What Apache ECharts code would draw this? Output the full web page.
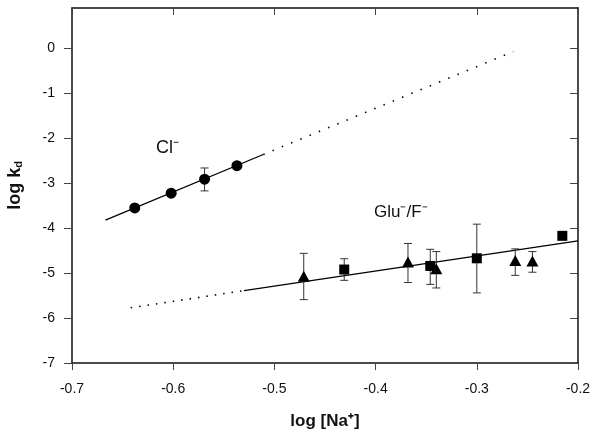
<!DOCTYPE html>
<html>
<head>
<meta charset="utf-8">
<script src="https://cdn.jsdelivr.net/npm/echarts@6/dist/echarts.min.js"></script>
<style>
html,body{margin:0;padding:0;background:#fff;}
#c{width:600px;height:436px;}
</style>
</head>
<body>
<div id="c"></div>
<script>
// ---- data ----
var clX = [-0.638, -0.602, -0.569, -0.537];
var clY = [-3.55, -3.22, -2.91, -2.61];
var clErrLo = [null, null, -3.17, null];
var clErrHi = [null, null, -2.66, null];

var sqX = [-0.431, -0.346, -0.300, -0.2155];
var sqY = [-4.92, -4.84, -4.67, -4.17];
var sqErrLo = [-5.16, -5.25, -5.44, -4.24];
var sqErrHi = [-4.68, -4.47, -3.91, -4.10];

var triX = [-0.471, -0.368, -0.340, -0.262, -0.245];
var triY = [-5.07, -4.75, -4.90, -4.72, -4.73];
var triErrLo = [-5.59, -5.21, -5.33, -5.05, -4.98];
var triErrHi = [-4.56, -4.34, -4.52, -4.46, -4.52];

var clFitSolidX = [-0.667, -0.511];
var clFitSolidY = [-3.82, -2.36];
var clFitDotX = [-0.511, -0.264];
var clFitDotY = [-2.36, -0.07];

var gluFitSolidX = [-0.530, -0.200];
var gluFitSolidY = [-5.39, -4.28];
var gluFitDotX = [-0.642, -0.530];
var gluFitDotY = [-5.77, -5.39];

var xTicksMin = -0.7, xTicksMax = -0.2, xStep = 0.1;
var yTicksMin = -7, yTicksMax = 0.9, yStep = 1;
var yTickValues = [-7, -6, -5, -4, -3, -2, -1, 0];

function zip(a, b) { return a.map(function (v, i) { return [v, b[i]]; }); }
function errData(x, lo, hi) {
  var out = [];
  x.forEach(function (v, i) { if (lo[i] != null) out.push([v, lo[i], hi[i]]); });
  return out;
}
function errRender(params, api) {
  var x = api.value(0), lo = api.value(1), hi = api.value(2);
  var pLo = api.coord([x, lo]), pHi = api.coord([x, hi]);
  var w = 4;
  var st = { stroke: '#333', lineWidth: 1 };
  return { type: 'group', children: [
    { type: 'line', shape: { x1: pLo[0], y1: pLo[1], x2: pHi[0], y2: pHi[1] }, style: st },
    { type: 'line', shape: { x1: pLo[0] - w, y1: pLo[1], x2: pLo[0] + w, y2: pLo[1] }, style: st },
    { type: 'line', shape: { x1: pHi[0] - w, y1: pHi[1], x2: pHi[0] + w, y2: pHi[1] }, style: st }
  ]};
}

var labelFont = 'Liberation Sans, Arial, sans-serif';
var chart = echarts.init(document.getElementById('c'), null, { renderer: 'canvas' });
var axisLineStyle = { color: '#111', width: 1.5 };
var tickStyle = { color: '#444', width: 1 };

chart.setOption({
  animation: false,
  backgroundColor: '#fff',
  grid: { left: 72, right: 22, top: 8, bottom: 73, containLabel: false, outerBoundsMode: 'none' },
  xAxis: [{
    type: 'value', min: xTicksMin, max: xTicksMax, interval: xStep, position: 'bottom',
    axisLine: { show: true, onZero: false, lineStyle: axisLineStyle },
    axisTick: { show: true, inside: false, length: 7, lineStyle: tickStyle },
    splitLine: { show: false },
    axisLabel: { margin: 19, fontSize: 14, color: '#111', fontFamily: labelFont,
      formatter: function (v) { return (Math.round(v * 10) / 10).toFixed(1); } },
    name: 'log [Na\u207A]', nameLocation: 'middle', nameGap: 50,
    nameTextStyle: { fontSize: 17, fontWeight: 'bold', color: '#111', fontFamily: labelFont }
  }, {
    type: 'value', min: xTicksMin, max: xTicksMax, interval: xStep, position: 'top',
    axisLine: { show: true, onZero: false, lineStyle: axisLineStyle },
    axisTick: { show: true, inside: true, length: 7, lineStyle: tickStyle },
    splitLine: { show: false }, axisLabel: { show: false }
  }],
  yAxis: [{
    type: 'value', min: yTicksMin, max: yTicksMax, interval: yStep, position: 'left',
    axisLine: { show: true, onZero: false, lineStyle: axisLineStyle },
    axisTick: { show: true, inside: false, length: 8, lineStyle: tickStyle, customValues: yTickValues },
    splitLine: { show: false },
    axisLabel: { margin: 17, fontSize: 14, color: '#111', fontFamily: labelFont, customValues: yTickValues,
      formatter: function (v) { return String(Math.round(v)); } },
    name: 'log k{sub|d}', nameLocation: 'middle', nameGap: 48, nameRotate: 90,
    nameTextStyle: { fontSize: 18, fontWeight: 'bold', color: '#111', fontFamily: labelFont,
      rich: { sub: { fontSize: 11, fontWeight: 'bold', verticalAlign: 'bottom', padding: [6, 0, 0, 0], fontFamily: labelFont } } }
  }, {
    type: 'value', min: yTicksMin, max: yTicksMax, interval: yStep, position: 'right',
    axisLine: { show: true, onZero: false, lineStyle: axisLineStyle },
    axisTick: { show: true, inside: true, length: 8, lineStyle: tickStyle, customValues: yTickValues },
    splitLine: { show: false }, axisLabel: { show: false }
  }],
  series: [
    { type: 'line', data: zip(clFitSolidX, clFitSolidY), symbol: 'none', silent: true,
      lineStyle: { color: '#000', width: 1.3 }, z: 2 },
    { type: 'line', data: zip(clFitDotX, clFitDotY), symbol: 'none', silent: true,
      lineStyle: { color: '#000', width: 1.6, type: [1.5, 8.5] }, z: 2 },
    { type: 'line', data: zip(gluFitSolidX, gluFitSolidY), symbol: 'none', silent: true,
      lineStyle: { color: '#000', width: 1.3 }, z: 2 },
    { type: 'line', data: zip(gluFitDotX, gluFitDotY), symbol: 'none', silent: true,
      lineStyle: { color: '#000', width: 1.6, type: [1.5, 7] }, z: 2 },
    { type: 'custom', renderItem: errRender, data: errData(clX, clErrLo, clErrHi), z: 3 },
    { type: 'custom', renderItem: errRender, data: errData(sqX, sqErrLo, sqErrHi), z: 3 },
    { type: 'custom', renderItem: errRender, data: errData(triX, triErrLo, triErrHi), z: 3 },
    { type: 'scatter', data: zip(clX, clY), symbol: 'circle', symbolSize: 11,
      itemStyle: { color: '#000', opacity: 1 }, z: 4 },
    { type: 'scatter', data: zip(sqX, sqY), symbol: 'rect', symbolSize: 10,
      itemStyle: { color: '#000', opacity: 1 }, z: 4 },
    { type: 'scatter', data: zip(triX, triY), symbol: 'triangle', symbolSize: [12, 11],
      itemStyle: { color: '#000', opacity: 1 }, z: 4 }
  ],
  graphic: [
    { type: 'text', left: 156, top: 139, z: 10,
      style: { text: 'Cl\u207B', fill: '#111', font: '18px ' + labelFont } },
    { type: 'text', left: 374, top: 204, z: 10,
      style: { text: 'Glu\u207B/F\u207B', fill: '#111', font: '17px ' + labelFont } }
  ]
});
</script>
</body>
</html>
